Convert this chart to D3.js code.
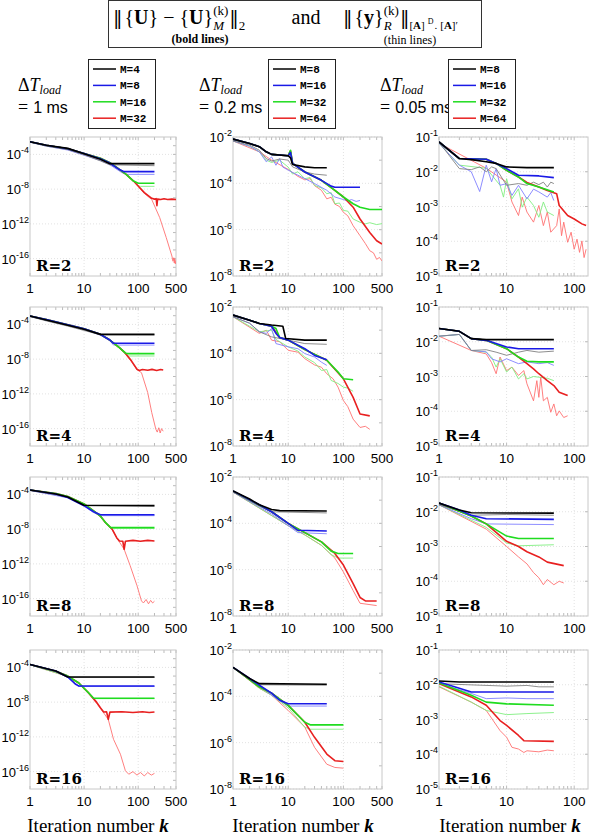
<!DOCTYPE html>
<html>
<head>
<meta charset="utf-8">
<script src="https://cdn.jsdelivr.net/npm/d3@7"></script>
<style>
  body { margin: 0; background: #fff; }
  svg { display: block; }
</style>
</head>
<body>
<script>
// ---- chart values (k, log10 of the norm) ----
var dtLabels = ["1 ms", "0.2 ms", "0.05 ms"];
var mLabels = [["M=4", "M=8", "M=16", "M=32"],
               ["M=8", "M=16", "M=32", "M=64"],
               ["M=8", "M=16", "M=32", "M=64"]];
var rLabels = ["R=2", "R=4", "R=8", "R=16"];
var xTickVals = [[1, 10, 100, 500], [1, 10, 100, 500], [1, 10, 100]];
var yTickExps = [[-4, -8, -12, -16], [-2, -4, -6, -8], [-1, -2, -3, -4, -5]];
var xMax = [500, 500, 160];
var yExpRange = [[-18, -2], [-8, -2], [-5, -1]];

// column 1 : dT = 1 ms
var bold_1ms_R2 = [
  [[1,-2.54],[2,-2.95],[5,-3.31],[10,-3.92],[20,-4.57],[30,-5.07],[200,-5.07]],
  [[1,-2.54],[2,-2.95],[5,-3.35],[10,-3.9],[20,-4.5],[30,-5.0],[45,-5.75],[55,-5.99],[200,-5.99]],
  [[1,-2.54],[2,-2.95],[5,-3.35],[10,-3.9],[20,-4.45],[30,-4.95],[40,-5.5],[60,-6.3],[82,-7.07],[100,-7.33],[200,-7.33]],
  [[1,-2.54],[2,-2.95],[5,-3.35],[10,-3.9],[20,-4.45],[30,-4.95],[40,-5.5],[60,-6.3],[82,-7.07],[100,-7.64],[130,-8.4],[178,-9.06],[200,-9.15],[215,-9.1],[222,-9.9],[228,-9.15],[260,-9.2],[300,-9.1],[350,-9.2],[420,-9.15],[500,-9.2]]
];
var thin_1ms_R2 = [
  [[1,-2.6],[2,-3.05],[5,-3.45],[10,-4.05],[20,-4.75],[30,-5.2],[200,-5.3]],
  [[1,-2.6],[2,-3.05],[5,-3.5],[10,-4.1],[20,-4.7],[30,-5.2],[50,-6.1],[60,-6.3],[200,-6.3]],
  [[1,-2.6],[2,-3.0],[5,-3.4],[10,-3.95],[20,-4.5],[40,-5.55],[60,-6.35],[82,-7.1],[100,-7.6],[110,-7.68],[200,-7.68]],
  [[1,-2.6],[5,-3.4],[10,-3.95],[20,-4.5],[40,-5.55],[60,-6.35],[82,-7.1],[100,-7.7],[130,-8.5],[178,-9.2],[250,-11.28],[330,-13.58],[420,-15.7],[440,-16.3],[455,-15.9],[465,-16.5],[475,-16.0],[485,-16.6],[500,-16.2]]
];
var bold_1ms_R4 = [
  [[1,-3.04],[2,-3.5],[5,-4.11],[10,-4.57],[20,-5.15],[200,-5.15]],
  [[1,-3.04],[2,-3.45],[5,-4.05],[10,-4.5],[20,-5.15],[30,-5.8],[35,-6.18],[200,-6.18]],
  [[1,-3.04],[2,-3.45],[5,-4.05],[10,-4.5],[20,-5.15],[30,-5.8],[45,-6.68],[57,-7.26],[62,-7.37],[200,-7.37]],
  [[1,-3.04],[2,-3.45],[5,-4.05],[10,-4.5],[20,-5.15],[30,-5.8],[45,-6.68],[57,-7.26],[75,-8.2],[95,-9.17],[105,-9.3],[120,-9.2],[150,-9.28],[180,-9.18],[220,-9.3],[260,-9.2],[290,-9.25]]
];
var thin_1ms_R4 = [
  [[1,-3.1],[2,-3.6],[5,-4.2],[10,-4.7],[20,-5.2],[200,-5.22]],
  [[1,-3.1],[5,-4.1],[10,-4.6],[20,-5.25],[30,-5.9],[35,-6.38],[200,-6.38]],
  [[1,-3.1],[5,-4.1],[10,-4.6],[20,-5.2],[30,-5.85],[45,-6.75],[57,-7.35],[65,-7.64],[200,-7.64]],
  [[1,-3.1],[5,-4.1],[10,-4.6],[20,-5.2],[30,-5.85],[45,-6.75],[57,-7.35],[75,-8.3],[95,-9.2],[115,-9.56],[150,-11.85],[178,-14.15],[212,-16.07],[225,-16.4],[240,-15.9],[255,-16.5],[270,-16.0],[290,-16.3]]
];
var bold_1ms_R8 = [
  [[1,-3.5],[3,-3.95],[5,-4.3],[10,-5.26],[200,-5.3]],
  [[1,-3.5],[3,-3.95],[5,-4.35],[10,-5.3],[15,-6.0],[20,-6.34],[200,-6.34]],
  [[1,-3.5],[3,-3.9],[5,-4.25],[10,-5.1],[15,-5.9],[20,-6.49],[25,-7.26],[31,-7.83],[200,-7.83]],
  [[1,-3.5],[3,-3.9],[5,-4.25],[10,-5.1],[15,-5.9],[20,-6.49],[25,-7.26],[33,-8.0],[40,-8.98],[45,-9.36],[52,-9.4],[55,-10.32],[58,-9.4],[80,-9.3],[110,-9.4],[150,-9.3],[200,-9.36]]
];
var thin_1ms_R8 = [
  [[1,-3.55],[3,-4.0],[5,-4.35],[10,-5.3],[200,-5.34]],
  [[1,-3.55],[5,-4.4],[10,-5.35],[15,-6.1],[20,-6.45],[200,-6.45]],
  [[1,-3.55],[5,-4.3],[10,-5.15],[20,-6.55],[25,-7.3],[31,-7.9],[200,-7.9]],
  [[1,-3.55],[5,-4.3],[10,-5.15],[20,-6.55],[25,-7.3],[33,-8.05],[40,-9.0],[55,-10.32],[71,-12.2],[95,-14.5],[115,-16.26],[125,-16.5],[140,-16.1],[155,-16.6],[170,-16.2],[185,-16.5],[200,-16.3]]
];
var bold_1ms_R16 = [
  [[1,-3.66],[3,-4.42],[5,-5.11],[200,-5.11]],
  [[1,-3.66],[3,-4.42],[5,-5.1],[7,-5.95],[8,-6.15],[200,-6.15]],
  [[1,-3.66],[3,-4.45],[5,-5.0],[8,-5.8],[12,-6.91],[15,-7.56],[200,-7.56]],
  [[1,-3.66],[3,-4.45],[5,-5.0],[8,-5.8],[12,-6.91],[17,-8.0],[20,-8.64],[23,-9.13],[26,-9.1],[28,-9.98],[30,-9.15],[50,-9.1],[80,-9.2],[120,-9.1],[160,-9.2],[200,-9.13]]
];
var thin_1ms_R16 = [
  [[1,-3.7],[3,-4.5],[5,-5.15],[200,-5.15]],
  [[1,-3.7],[3,-4.5],[5,-5.15],[8,-6.2],[200,-6.2]],
  [[1,-3.7],[5,-5.05],[8,-5.85],[12,-6.95],[15,-7.6],[200,-7.6]],
  [[1,-3.7],[5,-5.05],[8,-5.85],[12,-6.95],[20,-8.7],[28,-10.0],[35,-12.28],[47,-14.0],[58,-15.9],[67,-16.3],[80,-16.0],[95,-16.4],[110,-16.1],[130,-16.5],[150,-16.1],[175,-16.4],[200,-16.2]]
];

// column 2 : dT = 0.2 ms
var bold_02ms_R2 = [
  [[1,-2.09],[2,-2.28],[3,-2.42],[4,-2.64],[5,-2.75],[10,-2.81],[11,-2.9],[12,-3.19],[20,-3.29],[30,-3.33],[50,-3.33]],
  [[1,-2.09],[2,-2.28],[3,-2.42],[4,-2.64],[5,-2.75],[10,-2.81],[11,-2.67],[12,-3.14],[20,-3.51],[40,-3.87],[60,-4.12],[70,-4.17],[200,-4.17]],
  [[1,-2.09],[2,-2.28],[3,-2.42],[4,-2.64],[5,-2.75],[10,-2.81],[11,-2.57],[12,-3.14],[20,-3.51],[40,-3.87],[70,-4.3],[100,-4.59],[150,-4.88],[200,-5.03],[300,-5.13],[500,-5.13]],
  [[1,-2.09],[2,-2.28],[3,-2.42],[4,-2.64],[5,-2.75],[10,-2.81],[11,-2.6],[12,-3.14],[20,-3.51],[40,-3.87],[70,-4.3],[100,-4.59],[150,-5.03],[200,-5.54],[300,-6.12],[400,-6.48],[500,-6.62]]
];
var thin_02ms_R2 = [
  [[1,-2.17],[2,-2.35],[3,-2.57],[4,-2.93],[5,-3.04],[7,-2.95],[10,-3.0],[12,-3.29],[20,-3.51],[30,-3.6],[50,-3.65]],
  [[1,-2.17],[2,-2.4],[3,-2.64],[4,-3.07],[5,-2.86],[6,-3.22],[7,-2.93],[8,-3.3],[10,-3.43],[15,-3.65],[20,-3.8],[30,-4.01],[50,-4.3],[70,-4.59],[100,-4.7],[120,-4.76],[140,-4.7],[170,-4.78],[200,-4.74]],
  [[1,-2.17],[2,-2.4],[3,-2.64],[4,-3.0],[5,-3.1],[7,-3.0],[10,-3.3],[12,-3.6],[15,-3.5],[20,-3.8],[25,-3.75],[30,-4.09],[40,-4.2],[50,-4.45],[60,-4.4],[70,-4.88],[85,-4.85],[100,-5.17],[120,-5.2],[150,-5.54],[200,-5.68],[250,-5.75],[300,-5.7],[400,-5.78],[500,-5.74]],
  [[1,-2.17],[3,-2.64],[5,-3.0],[10,-3.4],[15,-3.7],[20,-3.85],[25,-3.8],[30,-4.1],[40,-4.3],[50,-4.67],[60,-4.6],[70,-4.9],[85,-5.0],[100,-5.25],[120,-5.4],[150,-5.83],[200,-6.26],[250,-6.6],[300,-6.91],[350,-7.0],[400,-7.28],[450,-7.2],[500,-7.35]]
];
var bold_02ms_R4 = [
  [[1,-2.35],[2,-2.57],[3,-2.71],[5,-2.78],[8,-2.83],[9,-3.36],[20,-3.43],[50,-3.43]],
  [[1,-2.35],[2,-2.57],[3,-2.71],[5,-2.83],[6,-3.14],[7,-3.32],[10,-3.43],[20,-3.8],[30,-4.09],[50,-4.28]],
  [[1,-2.35],[2,-2.57],[3,-2.71],[5,-2.83],[6,-2.93],[7,-3.32],[10,-3.43],[20,-3.84],[50,-4.3],[80,-4.81],[100,-5.1],[150,-5.14]],
  [[1,-2.35],[2,-2.57],[3,-2.71],[5,-2.83],[7,-3.32],[10,-3.43],[20,-3.84],[50,-4.3],[100,-5.1],[150,-5.9],[200,-6.62],[300,-6.7]]
];
var thin_02ms_R4 = [
  [[1,-2.42],[2,-2.7],[3,-3.07],[5,-3.29],[10,-3.43],[20,-3.58],[50,-3.61]],
  [[1,-2.42],[2,-2.7],[3,-3.07],[4,-3.14],[5,-2.93],[6,-3.58],[10,-3.72],[15,-3.8],[20,-4.01],[30,-4.16],[40,-4.38],[50,-4.52]],
  [[1,-2.42],[3,-3.07],[5,-3.0],[6,-3.4],[10,-3.72],[15,-3.9],[20,-4.16],[30,-4.4],[40,-4.74],[50,-4.7],[60,-5.17],[80,-5.3],[100,-5.46],[120,-5.5],[150,-5.64]],
  [[1,-2.42],[3,-3.14],[4,-3.0],[5,-3.43],[7,-3.5],[10,-3.87],[15,-3.95],[20,-4.23],[30,-4.5],[40,-4.6],[50,-4.88],[65,-5.1],[80,-5.46],[100,-6.04],[120,-6.3],[150,-6.84],[200,-7.2],[250,-7.15],[300,-7.28]]
];
var bold_02ms_R8 = [
  [[1,-2.6],[2,-2.95],[3,-3.2],[5,-3.4],[7,-3.45],[50,-3.47]],
  [[1,-2.6],[3,-3.2],[5,-3.5],[10,-4.0],[15,-4.3],[50,-4.33]],
  [[1,-2.6],[5,-3.5],[10,-4.0],[20,-4.4],[40,-4.8],[60,-5.2],[80,-5.3],[150,-5.3]],
  [[1,-2.6],[5,-3.5],[10,-4.0],[20,-4.4],[40,-4.8],[70,-5.3],[100,-5.8],[150,-6.6],[200,-7.2],[250,-7.35],[400,-7.35]]
];
var thin_02ms_R8 = [
  [[1,-2.65],[3,-3.25],[5,-3.5],[50,-3.55]],
  [[1,-2.65],[5,-3.6],[10,-4.1],[15,-4.4],[50,-4.45]],
  [[1,-2.65],[10,-4.1],[20,-4.5],[40,-4.95],[60,-5.35],[80,-5.5],[150,-5.5]],
  [[1,-2.65],[10,-4.1],[20,-4.5],[40,-4.95],[70,-5.5],[100,-6.1],[150,-6.9],[200,-7.45],[400,-7.55]]
];
var bold_02ms_R16 = [
  [[1,-2.75],[2,-3.23],[3,-3.45],[50,-3.48]],
  [[1,-2.75],[2,-3.23],[3,-3.52],[5,-3.86],[7,-4.17],[10,-4.32],[50,-4.32]],
  [[1,-2.75],[3,-3.59],[5,-3.86],[10,-4.39],[20,-5.12],[25,-5.23],[100,-5.23]],
  [[1,-2.75],[3,-3.59],[5,-3.86],[10,-4.39],[20,-5.12],[30,-5.77],[50,-6.49],[70,-6.78],[100,-6.81]]
];
var thin_02ms_R16 = [
  [[1,-2.75],[2,-3.25],[3,-3.5],[50,-3.52]],
  [[1,-2.75],[3,-3.55],[5,-3.95],[10,-4.42],[50,-4.42]],
  [[1,-2.75],[3,-3.65],[5,-3.95],[10,-4.5],[20,-5.33],[25,-5.42],[100,-5.42]],
  [[1,-2.75],[3,-3.65],[5,-3.95],[10,-4.61],[20,-5.33],[30,-6.2],[50,-6.93],[70,-7.07],[100,-7.1]]
];

// column 3 : dT = 0.05 ms
var bold_005ms_R2 = [
  [[1,-1.14],[2,-1.62],[3,-1.65],[5,-1.71],[7,-1.76],[10,-1.86],[20,-1.88],[50,-1.88]],
  [[1,-1.14],[2,-1.62],[5,-1.64],[7,-1.76],[10,-1.91],[15,-2.1],[30,-2.12],[50,-2.17]],
  [[1,-1.14],[2,-1.62],[5,-1.64],[7,-1.76],[10,-1.96],[15,-2.15],[20,-2.34],[30,-2.44],[50,-2.58]],
  [[1,-1.14],[2,-1.62],[5,-1.64],[7,-1.76],[10,-1.96],[15,-2.15],[20,-2.31],[30,-2.44],[40,-2.54],[55,-2.63],[60,-2.97],[80,-3.26],[100,-3.36],[130,-3.5],[150,-3.55]]
];
var thin_005ms_R2 = [
  [[1,-1.15],[2,-1.91],[3,-1.94],[4,-1.86],[5,-2.0],[6,-1.86],[7,-1.91],[10,-2.39],[15,-2.34],[20,-2.39],[25,-2.3],[30,-2.37],[35,-2.3],[40,-2.44],[45,-2.3],[50,-2.34]],
  [[1,-1.18],[2,-1.81],[3,-2.0],[4,-2.57],[5,-1.81],[6,-2.29],[7,-1.91],[8,-2.39],[10,-2.34],[12,-2.68],[15,-2.39],[20,-2.78],[25,-2.5],[30,-2.58],[40,-2.73],[45,-2.6],[50,-2.83]],
  [[1,-1.18],[2,-1.81],[5,-1.9],[8,-2.39],[9,-2.73],[10,-2.2],[12,-2.78],[15,-2.49],[17,-3.02],[20,-2.73],[25,-2.97],[30,-3.31],[35,-2.87],[40,-3.16],[50,-3.26]],
  [[1,-1.18],[5,-1.9],[10,-2.3],[12,-2.87],[15,-3.26],[17,-2.73],[20,-3.16],[25,-3.45],[30,-2.97],[35,-3.55],[40,-3.16],[45,-3.74],[55,-3.55],[60,-3.07],[65,-3.84],[70,-3.45],[80,-4.03],[90,-3.74],[100,-4.23],[110,-3.94],[120,-4.32],[130,-3.99],[140,-4.47],[150,-4.23]]
];
var bold_005ms_R4 = [
  [[1,-1.62],[2,-1.7],[3,-1.91],[5,-1.94],[50,-1.94]],
  [[1,-1.62],[2,-1.7],[3,-1.91],[5,-1.96],[10,-2.15],[15,-2.2],[50,-2.2]],
  [[1,-1.62],[2,-1.7],[3,-1.91],[5,-1.96],[10,-2.2],[15,-2.44],[20,-2.56],[30,-2.58],[50,-2.58]],
  [[1,-1.62],[2,-1.7],[3,-1.91],[5,-1.96],[10,-2.2],[15,-2.44],[20,-2.63],[25,-2.78],[30,-2.92],[40,-3.12],[50,-3.26],[60,-3.45],[80,-3.55]]
];
var thin_005ms_R4 = [
  [[1,-1.84],[2,-1.79],[3,-2.25],[5,-2.23],[7,-2.3],[10,-2.39],[15,-2.3],[20,-2.25],[30,-2.3],[50,-2.27]],
  [[1,-1.84],[2,-1.79],[3,-2.25],[5,-2.29],[6,-2.49],[8,-2.58],[10,-2.49],[15,-2.63],[20,-2.58],[30,-2.63],[40,-2.6],[50,-2.68]],
  [[1,-1.84],[2,-1.79],[3,-2.25],[5,-2.3],[6,-2.44],[7,-2.73],[8,-2.49],[10,-2.87],[12,-2.73],[15,-3.07],[18,-2.92],[20,-3.07],[25,-3.0],[30,-3.02],[40,-3.05],[50,-3.12]],
  [[1,-1.84],[3,-2.25],[5,-2.35],[6,-2.6],[7,-2.92],[8,-2.44],[10,-2.83],[12,-2.73],[15,-2.97],[18,-2.83],[20,-3.21],[25,-3.7],[28,-3.12],[30,-3.6],[32,-3.02],[35,-3.7],[40,-3.6],[45,-4.03],[50,-3.79],[55,-4.13],[60,-3.99],[70,-4.18],[80,-4.13]]
];
var bold_005ms_R8 = [
  [[1,-1.75],[2,-1.95],[3,-2.03],[50,-2.04]],
  [[1,-1.75],[2,-1.95],[3,-2.1],[5,-2.2],[50,-2.22]],
  [[1,-1.75],[3,-2.12],[5,-2.35],[10,-2.7],[15,-2.77],[50,-2.77]],
  [[1,-1.75],[3,-2.12],[5,-2.35],[10,-2.85],[15,-3.0],[20,-3.15],[30,-3.3],[40,-3.45],[70,-3.55]]
];
var thin_005ms_R8 = [
  [[1,-1.8],[3,-2.1],[10,-2.08],[50,-2.1]],
  [[1,-1.8],[3,-2.2],[5,-2.35],[50,-2.37]],
  [[1,-1.8],[5,-2.45],[10,-2.9],[15,-2.98],[50,-2.95]],
  [[1,-1.8],[5,-2.5],[10,-3.0],[15,-3.3],[20,-3.5],[25,-3.75],[30,-3.9],[35,-4.1],[40,-3.95],[50,-4.1],[60,-4.0],[70,-4.05]]
];
var bold_005ms_R16 = [
  [[1,-1.89],[2,-1.92],[50,-1.92]],
  [[1,-1.92],[2,-2.1],[3,-2.21],[50,-2.21]],
  [[1,-1.95],[3,-2.3],[5,-2.5],[10,-2.55],[50,-2.59]],
  [[1,-1.97],[3,-2.35],[5,-2.59],[8,-3.03],[10,-3.17],[15,-3.46],[18,-3.61],[50,-3.63]]
];
var thin_005ms_R16 = [
  [[1,-1.97],[10,-2.04],[20,-2.02],[30,-2.06],[50,-2.06]],
  [[1,-1.97],[3,-2.25],[5,-2.4],[10,-2.38],[20,-2.4],[50,-2.4]],
  [[1,-2.04],[3,-2.5],[5,-2.74],[10,-2.86],[20,-2.83],[50,-2.8]],
  [[1,-2.06],[3,-2.5],[5,-2.74],[8,-3.32],[10,-3.51],[12,-3.8],[15,-3.85],[18,-3.95],[20,-3.9],[30,-3.93],[40,-3.88],[50,-3.9]]
];

var boldSeries = [
  [bold_1ms_R2, bold_1ms_R4, bold_1ms_R8, bold_1ms_R16],
  [bold_02ms_R2, bold_02ms_R4, bold_02ms_R8, bold_02ms_R16],
  [bold_005ms_R2, bold_005ms_R4, bold_005ms_R8, bold_005ms_R16]
];
var thinSeries = [
  [thin_1ms_R2, thin_1ms_R4, thin_1ms_R8, thin_1ms_R16],
  [thin_02ms_R2, thin_02ms_R4, thin_02ms_R8, thin_02ms_R16],
  [thin_005ms_R2, thin_005ms_R4, thin_005ms_R8, thin_005ms_R16]
];

// ---- layout ----
var colLeft = [30, 233, 439],
    colWidth = [146, 149, 149],
    colCenter = [98, 303, 510],
    rowTop = [137, 307, 477, 650],
    panelH = 139;

var boldColour = ["#000000", "#1a1ae6", "#1fdc1f", "#e82020"];
var thinColour = ["#808080", "#8080ff", "#80ee80", "#ff7070"];

var serif = "'Liberation Serif', 'DejaVu Serif', serif";
var sans = "'Liberation Sans', Arial, sans-serif";

var svg = d3.select("body").append("svg")
    .attr("width", 596)
    .attr("height", 838);

svg.append("rect").attr("width", 596).attr("height", 838).attr("fill", "#fff");

// helper: lay out text pieces left to right, stacking sup/sub where asked
function mathRow(g, x, y, pieces) {
  var cx = x;
  pieces.forEach(function(p) {
    if (p.stack) {
      var w = 0;
      p.stack.forEach(function(s) {
        var t = g.append("text")
            .attr("x", cx).attr("y", y + s.dy)
            .style("font-family", serif)
            .style("font-size", s.size + "px")
            .style("font-style", s.italic ? "italic" : "normal")
            .text(s.t);
        w = Math.max(w, t.node().getComputedTextLength());
      });
      cx += w + 1;
    } else {
      var t = g.append("text")
          .attr("x", cx).attr("y", y + (p.dy || 0))
          .style("font-family", p.family || serif)
          .style("font-size", (p.size || 17) + "px")
          .style("font-weight", p.bold ? "bold" : "normal")
          .style("font-style", p.italic ? "italic" : "normal")
          .text(p.t);
      cx += t.node().getComputedTextLength() + (p.gap || 0);
    }
  });
  return cx;
}

// double bar drawn with the DejaVu glyph, which has it
var bar = "'DejaVu Serif', serif";

// ---- header box ----
var head = svg.append("g");
head.append("rect")
    .attr("x", 108.5).attr("y", 0.5).attr("width", 373).attr("height", 47)
    .attr("fill", "none").attr("stroke", "#333").attr("stroke-width", 1);

mathRow(head, 113, 24, [
  {t: "\u2016", size: 19, family: bar, gap: 2}, {t: "{", size: 20}, {t: "U", bold: true, size: 20}, {t: "}", size: 20, gap: 5},
  {t: "\u2212", size: 20, gap: 5}, {t: "{", size: 20}, {t: "U", bold: true, size: 20}, {t: "}", size: 20},
  {stack: [{t: "(k)", dy: -9, size: 13, italic: false}, {t: "M", dy: 6, size: 13, italic: true}]},
  {t: "\u2016", size: 19, family: bar}, {t: "2", dy: 6, size: 13}
]);
head.append("text")
    .attr("x", 306).attr("y", 24).attr("text-anchor", "middle")
    .style("font-family", serif).style("font-size", "20px")
    .text("and");
mathRow(head, 343, 24, [
  {t: "\u2016", size: 19, family: bar, gap: 2}, {t: "{", size: 20}, {t: "y", bold: true, size: 20}, {t: "}", size: 20},
  {stack: [{t: "(k)", dy: -9, size: 13, italic: false}, {t: "R", dy: 6, size: 13, italic: true}]},
  {t: "\u2016", size: 19, family: bar},
  {t: "[", dy: 5, size: 11}, {t: "A", dy: 5, size: 11, bold: true}, {t: "]", dy: 5, size: 11, gap: 3},
  {t: "D", dy: 0, size: 8, gap: 1}, {t: ".", dy: 5, size: 11, gap: 3}, {t: "[", dy: 5, size: 11},
  {t: "A", dy: 5, size: 11, bold: true}, {t: "]\u2032", dy: 5, size: 11}
]);
head.append("text")
    .attr("x", 200).attr("y", 43).attr("text-anchor", "middle")
    .style("font-family", serif).style("font-size", "12px").style("font-weight", "bold")
    .text("(bold lines)");
head.append("text")
    .attr("x", 410).attr("y", 44).attr("text-anchor", "middle")
    .style("font-family", serif).style("font-size", "12px")
    .text("(thin lines)");

// ---- dT labels and legends ----
var dtX = [18, 199, 380],
    legX = [88, 268, 448];

dtLabels.forEach(function(lab, c) {
  var g = svg.append("g");
  mathRow(g, dtX[c], 91, [
    {t: "\u0394", size: 18}, {t: "T", italic: true, size: 18}, {t: "load", italic: true, size: 12, dy: 3}
  ]);
  mathRow(g, dtX[c], 113, [
    {t: "=", size: 18, gap: 5}, {t: lab, family: sans, size: 16}
  ]);

  var leg = svg.append("g").attr("transform", "translate(" + legX[c] + ",59)");
  leg.append("rect")
      .attr("x", 0.5).attr("y", 0.5).attr("width", 67).attr("height", 69)
      .attr("fill", "#fff").attr("stroke", "#222").attr("stroke-width", 1);
  mLabels[c].forEach(function(m, i) {
    var yy = 10 + i * 16.4;
    leg.append("line")
        .attr("x1", 5).attr("x2", 28).attr("y1", yy).attr("y2", yy)
        .attr("stroke", boldColour[i]).attr("stroke-width", 1.5);
    leg.append("text")
        .attr("x", 32).attr("y", yy).attr("dy", "0.35em")
        .style("font-family", "'Liberation Mono', 'DejaVu Sans Mono', monospace")
        .style("font-size", "11px").style("font-weight", "bold")
        .text(m);
  });
});

// ---- panels ----
var panelId = 0;
for (var c = 0; c < 3; c++) {
  for (var r = 0; r < 4; r++) {
    drawPanel(c, r);
  }
  svg.append("text")
      .attr("x", colCenter[c]).attr("y", 832)
      .attr("text-anchor", "middle")
      .style("font-family", serif).style("font-size", "19px")
      .call(function(t) {
        t.append("tspan").text("Iteration number ");
        t.append("tspan").style("font-weight", "bold").style("font-style", "italic").text("k");
      });
}

function drawPanel(c, r) {
  var left = colLeft[c], top = rowTop[r], w = colWidth[c], h = panelH;

  var xScale = d3.scaleLog().domain([1, xMax[c]]).range([left, left + w]);
  var yScale = d3.scaleLog()
      .domain([Math.pow(10, yExpRange[c][0]), Math.pow(10, yExpRange[c][1])])
      .range([top + h, top]);

  var g = svg.append("g");
  var id = "clip" + (panelId++);
  g.append("clipPath").attr("id", id)
    .append("rect").attr("x", left).attr("y", top).attr("width", w).attr("height", h);

  // dotted grid at the decades
  var xDecades = [10, 100].filter(function(v) { return v < xMax[c]; });
  var yDecades = d3.range(yExpRange[c][0] + 1, yExpRange[c][1]);
  g.selectAll(".gx").data(xDecades).enter().append("line")
      .attr("x1", function(d) { return xScale(d); }).attr("x2", function(d) { return xScale(d); })
      .attr("y1", top).attr("y2", top + h)
      .attr("stroke", "#e2e2e2").attr("stroke-dasharray", "1,2");
  g.selectAll(".gy").data(yTickExps[c]).enter().append("line")
      .attr("x1", left).attr("x2", left + w)
      .attr("y1", function(d) { return yScale(Math.pow(10, d)); })
      .attr("y2", function(d) { return yScale(Math.pow(10, d)); })
      .attr("stroke", "#e2e2e2").attr("stroke-dasharray", "1,2");

  // minor ticks along top and bottom
  var minor = xScale.ticks().filter(function(v) { return v <= xMax[c]; });
  g.selectAll(".mt").data(minor).enter().append("line")
      .attr("x1", function(d) { return xScale(d); }).attr("x2", function(d) { return xScale(d); })
      .attr("y1", top).attr("y2", top + 3)
      .attr("stroke", "#bbb");
  g.selectAll(".mb").data(minor).enter().append("line")
      .attr("x1", function(d) { return xScale(d); }).attr("x2", function(d) { return xScale(d); })
      .attr("y1", top + h).attr("y2", top + h - 3)
      .attr("stroke", "#bbb");
  g.selectAll(".yt").data(yDecades).enter().append("line")
      .attr("x1", left + w).attr("x2", left + w - 3)
      .attr("y1", function(d) { return yScale(Math.pow(10, d)); })
      .attr("y2", function(d) { return yScale(Math.pow(10, d)); })
      .attr("stroke", "#bbb");

  g.append("rect")
      .attr("x", left).attr("y", top).attr("width", w).attr("height", h)
      .attr("fill", "none").attr("stroke", "#c8c8c8").attr("stroke-width", 1);

  var line = d3.line()
      .x(function(d) { return xScale(d[0]); })
      .y(function(d) { return yScale(Math.pow(10, d[1])); });

  var lines = g.append("g").attr("clip-path", "url(#" + id + ")");

  // thin indicator lines underneath
  [3, 2, 1, 0].forEach(function(i) {
    lines.append("path")
        .datum(thinSeries[c][r][i])
        .attr("d", line)
        .attr("fill", "none")
        .attr("stroke", thinColour[i])
        .attr("stroke-width", 0.9)
        .attr("stroke-linejoin", "round");
  });
  // bold error lines on top, black last
  [3, 2, 1, 0].forEach(function(i) {
    lines.append("path")
        .datum(boldSeries[c][r][i])
        .attr("d", line)
        .attr("fill", "none")
        .attr("stroke", boldColour[i])
        .attr("stroke-width", 1.6)
        .attr("stroke-linejoin", "round");
  });

  // y tick labels 10^e
  yTickExps[c].forEach(function(e) {
    var t = g.append("text")
        .attr("x", left - 1)
        .attr("y", yScale(Math.pow(10, e)) + 5)
        .attr("text-anchor", "end")
        .style("font-family", sans).style("font-size", "13px");
    t.append("tspan").text("10");
    t.append("tspan").attr("dy", -6).style("font-size", "9px").text(e);
  });

  // x tick labels
  g.selectAll(".xl").data(xTickVals[c]).enter().append("text")
      .attr("x", function(d) { return xScale(d); })
      .attr("y", top + h + 17)
      .attr("text-anchor", "middle")
      .style("font-family", sans).style("font-size", "13.5px")
      .text(function(d) { return d; });

  g.append("text")
      .attr("x", left + 6).attr("y", top + h - 5)
      .style("font-family", "'DejaVu Serif', serif")
      .style("font-size", "15px").style("font-weight", "bold")
      .text(rLabels[r]);
}
</script>
</body>
</html>
